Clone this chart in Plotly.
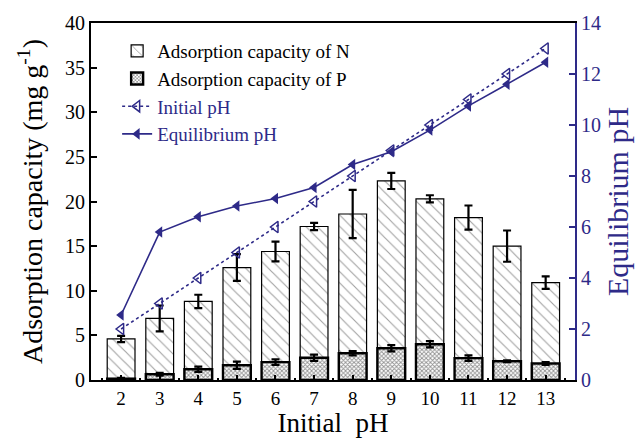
import plotly.graph_objects as go

ph_initial = [2, 3, 4, 5, 6, 7, 8, 9, 10, 11, 12, 13]
cap_N = [4.6, 6.9, 8.8, 12.6, 14.4, 17.2, 18.6, 22.3, 20.3, 18.2, 15.0, 10.9]
err_N = [0.35, 1.45, 0.75, 1.5, 1.1, 0.4, 2.7, 0.9, 0.4, 1.35, 1.75, 0.7]
cap_P = [0.15, 0.65, 1.2, 1.65, 2.0, 2.5, 3.0, 3.55, 4.0, 2.45, 2.1, 1.85]
err_P = [0.1, 0.15, 0.3, 0.4, 0.3, 0.35, 0.25, 0.35, 0.35, 0.3, 0.1, 0.15]
eq_ph = [2.55, 5.8, 6.4, 6.82, 7.12, 7.55, 8.45, 8.95, 9.8, 10.75, 11.6, 12.46]

BLUE = "#2e2a88"
FONT = "Liberation Serif, Times New Roman, serif"

fig = go.Figure()
fig.add_trace(go.Bar(
    x=ph_initial, y=cap_N, width=0.72, name="Adsorption capacity of N",
    marker=dict(color="white", line=dict(color="black", width=1.2),
                pattern=dict(shape="\\", size=8, solidity=0.14, fgcolor="#444444", bgcolor="white")),
    error_y=dict(type="data", array=err_N, color="black", thickness=2.2, width=4),
))
fig.add_trace(go.Bar(
    x=ph_initial, y=cap_P, width=0.72, name="Adsorption capacity of P",
    marker=dict(color="white", line=dict(color="black", width=2.4),
                pattern=dict(shape="x", size=3, solidity=0.5, fgcolor="#222222", bgcolor="white")),
    error_y=dict(type="data", array=err_P, color="black", thickness=2.2, width=4),
))
fig.add_trace(go.Scatter(
    x=ph_initial, y=ph_initial, yaxis="y2", mode="lines+markers",
    name='<span style="color:%s">Initial pH</span>' % BLUE,
    line=dict(color=BLUE, width=1.6, dash="dot"),
    marker=dict(symbol="triangle-left-open", size=10, color=BLUE, line=dict(width=1.5, color=BLUE)),
))
fig.add_trace(go.Scatter(
    x=ph_initial, y=eq_ph, yaxis="y2", mode="lines+markers",
    name='<span style="color:%s">Equilibrium pH</span>' % BLUE,
    line=dict(color=BLUE, width=1.6),
    marker=dict(symbol="triangle-left", size=10, color=BLUE),
))

fig.update_layout(
    width=639, height=438,
    margin=dict(l=91, r=64, t=23, b=58),
    plot_bgcolor="white", paper_bgcolor="white",
    barmode="overlay",
    font=dict(family=FONT, size=20, color="black"),
    showlegend=True,
    legend=dict(x=0.054, y=0.975, xanchor="left", yanchor="top",
                bgcolor="rgba(0,0,0,0)", font=dict(family=FONT, size=19),
                tracegroupgap=0, itemwidth=30),
    xaxis=dict(
        range=[1.22, 13.76], tickmode="array", tickvals=ph_initial,
        ticktext=[str(v) for v in ph_initial],
        ticks="inside", ticklen=5, tickwidth=1.5, tickcolor="black",
        minor=dict(tickvals=[v + 0.5 for v in [1] + ph_initial], ticks="inside", ticklen=2, tickwidth=1.5, tickcolor="black"),
        showline=True, linecolor="black", linewidth=2, mirror=True,
        showgrid=False, zeroline=False, automargin=False,
        tickfont=dict(family=FONT, size=19),
        title=dict(text="Initial\u00a0 pH", font=dict(family=FONT, size=27), standoff=9),
    ),
    yaxis=dict(
        range=[0, 40], tickmode="array", tickvals=[0, 5, 10, 15, 20, 25, 30, 35, 40],
        ticks="inside", ticklen=6, tickwidth=1.5, tickcolor="black",
        showline=True, linecolor="black", linewidth=2,
        showgrid=False, zeroline=False, automargin=False,
        tickfont=dict(family=FONT, size=20),
        title=dict(text="Adsorption capacity (mg g<sup>-1</sup>)", font=dict(family=FONT, size=28), standoff=14),
    ),
    yaxis2=dict(
        overlaying="y", side="right", range=[0, 14],
        tickmode="array", tickvals=[0, 2, 4, 6, 8, 10, 12, 14],
        ticks="inside", ticklen=6, tickwidth=1.5, tickcolor=BLUE,
        showline=True, linecolor=BLUE, linewidth=2,
        showgrid=False, zeroline=False, automargin=False,
        tickfont=dict(family=FONT, size=20, color=BLUE),
        title=dict(text="Equilibrium pH", font=dict(family=FONT, size=30, color=BLUE), standoff=6),
    ),
)

fig.write_html("out.html")
